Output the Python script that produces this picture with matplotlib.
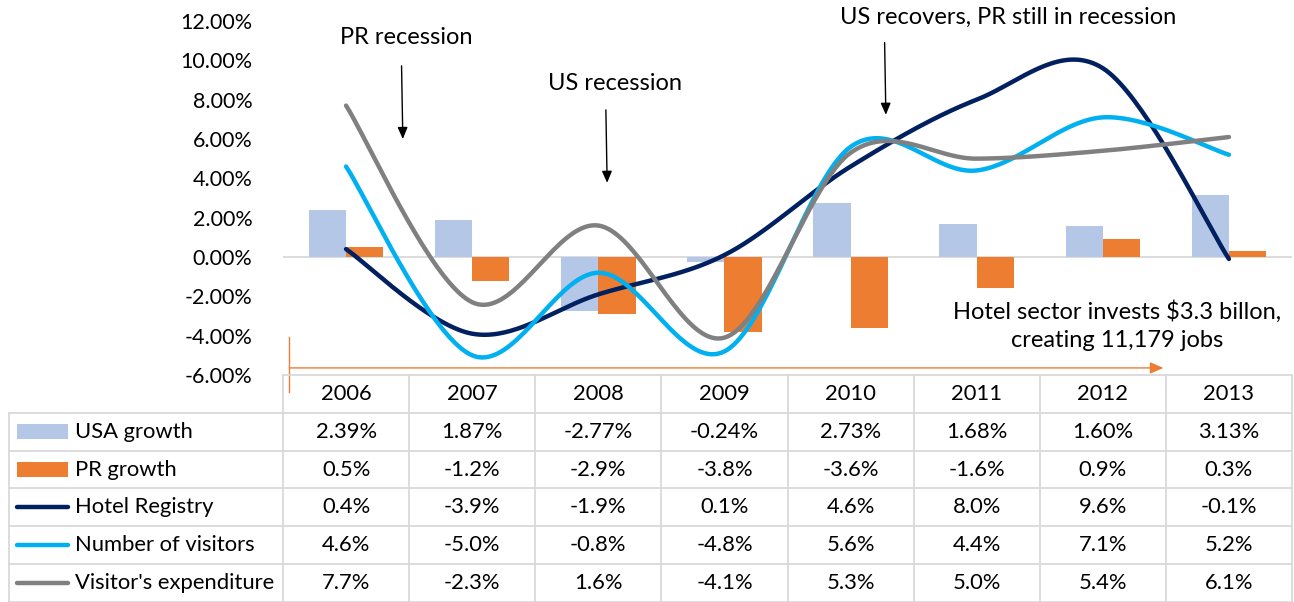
import numpy as np
import matplotlib
matplotlib.use('Agg')
import matplotlib.pyplot as plt

plt.rcParams['font.family'] = ['Lato', 'DejaVu Sans']

years = ['2006', '2007', '2008', '2009', '2010', '2011', '2012', '2013']
usa_growth = [2.39, 1.87, -2.77, -0.24, 2.73, 1.68, 1.60, 3.13]
pr_growth = [0.5, -1.2, -2.9, -3.8, -3.6, -1.6, 0.9, 0.3]
hotel_registry = [0.4, -3.9, -1.9, 0.1, 4.6, 8.0, 9.6, -0.1]
visitors = [4.6, -5.0, -0.8, -4.8, 5.6, 4.4, 7.1, 5.2]
expenditure = [7.7, -2.3, 1.6, -4.1, 5.3, 5.0, 5.4, 6.1]

usa_labels = ['2.39%', '1.87%', '-2.77%', '-0.24%', '2.73%', '1.68%', '1.60%', '3.13%']
pct1 = lambda v: [f'{x:.1f}%' for x in v]

C_USA = '#B4C7E7'
C_PR = '#ED7D31'
C_HOTEL = '#002060'
C_VIS = '#00B0F0'
C_EXP = '#808080'
GRID = '#D9D9D9'


def smooth(y, n=40):
    # Excel-like smoothed line: cubic bezier per segment, catmull-rom tangents
    p = np.column_stack([np.arange(len(y)), np.asarray(y, float)])
    pts = []
    t = np.linspace(0, 1, n)[:, None]
    for i in range(len(p) - 1):
        p0 = p[max(i - 1, 0)]
        p3 = p[min(i + 2, len(p) - 1)]
        b0, b3 = p[i], p[i + 1]
        b1 = b0 + (b3 - p0) / 6
        b2 = b3 - (p3 - b0) / 6
        seg = ((1 - t) ** 3) * b0 + 3 * ((1 - t) ** 2) * t * b1 + 3 * (1 - t) * t ** 2 * b2 + t ** 3 * b3
        pts.append(seg if i == 0 else seg[1:])
    pts = np.vstack(pts)
    return pts[:, 0], pts[:, 1]


W, H = 1294, 602
fig = plt.figure(figsize=(W / 100, H / 100), dpi=100)

left_px, right_px = 283, 1292
top_px, bot_px = 21, 375
ax = fig.add_axes([left_px / W, 1 - bot_px / H, (right_px - left_px) / W, (bot_px - top_px) / H])

x = np.arange(len(years))
bw = 0.295
ax.bar(x - bw / 2, usa_growth, bw, color=C_USA, zorder=2)
ax.bar(x + bw / 2, pr_growth, bw, color=C_PR, zorder=2)
for vals, col in [(hotel_registry, C_HOTEL), (visitors, C_VIS), (expenditure, C_EXP)]:
    sx, sy = smooth(vals)
    ax.plot(sx, sy, color=col, lw=3.2, solid_capstyle='round', zorder=3)

ax.axhline(0, color=GRID, lw=1.3, zorder=1)
ax.set_xlim(-0.5, len(years) - 0.5)
ax.set_ylim(-6, 12)
ax.set_yticks(np.arange(-6, 13, 2))
ax.set_yticklabels([f'{v:.2f}%' for v in np.arange(-6, 13, 2)], fontsize=15.5)
ax.tick_params(axis='y', length=0, pad=22)
ax.set_xticks([])
for s in ax.spines.values():
    s.set_visible(False)
ax.patch.set_alpha(0)

# annotations
fs = 17
ax.text(0.48, 11.18, 'PR recession', ha='center', va='center', fontsize=fs)
ax.text(2.13, 8.8, 'US recession', ha='center', va='center', fontsize=fs)
ax.text(5.25, 12.2, 'US recovers, PR still in recession', ha='center', va='center', fontsize=fs, clip_on=False)
ax.text(6.11, -3.5, 'Hotel sector invests $3.3 billon,\ncreating 11,179 jobs', ha='center', va='center',
        fontsize=fs, multialignment='center', linespacing=1.4)
arrow_kw = dict(arrowstyle='-|>,head_length=0.7,head_width=0.3', color='black', lw=1, shrinkA=0, shrinkB=0)
for ax_x, y0, y1 in [(0.44, 9.72, 6.0), (2.06, 7.48, 3.77), (4.27, 10.9, 7.23)]:
    ax.annotate('', xy=(ax_x + 0.01, y1), xytext=(ax_x, y0), arrowprops=arrow_kw, annotation_clip=False)

# orange timeline
ax.annotate('', xy=(6.48, -5.64), xytext=(-0.45, -5.64), annotation_clip=False,
            arrowprops=dict(arrowstyle='-|>,head_length=0.8,head_width=0.35', color=C_PR, lw=1,
                            shrinkA=0, shrinkB=0))
ax.plot([-0.45, -0.45], [-4.07, -6.86], color=C_PR, lw=1, clip_on=False)

# data table
tab_left = 9
unit = (right_px - left_px) / len(years)
tx0 = -0.5 - (left_px - tab_left) / unit
tax = fig.add_axes([tab_left / W, 0, (right_px - tab_left) / W, (H - bot_px) / H])
tax.set_xlim(tx0, len(years) - 0.5)
nrows = 6
row_h = 37.8
tax.set_ylim((H - bot_px) / row_h, 0)
tax.axis('off')

rows = [
    ('USA growth', usa_labels, C_USA, 'bar'),
    ('PR growth', pct1(pr_growth), C_PR, 'bar'),
    ('Hotel Registry', pct1(hotel_registry), C_HOTEL, 'line'),
    ('Number of visitors', pct1(visitors), C_VIS, 'line'),
    ("Visitor's expenditure", pct1(expenditure), C_EXP, 'line'),
]
tfs = 15.8
for i, yr in enumerate(years):
    tax.text(i, 0.5, yr, ha='center', va='center', fontsize=tfs)
for r, (name, labels, col, kind) in enumerate(rows, start=1):
    yc = r + 0.5
    k0 = tx0 + 8 / unit
    k1 = tx0 + 59 / unit
    if kind == 'bar':
        tax.add_patch(plt.Rectangle((k0, yc - 0.2), k1 - k0, 0.4, color=col, lw=0))
    else:
        tax.plot([k0, k1], [yc, yc], color=col, lw=3.2, solid_capstyle='round')
    tax.text(tx0 + 66 / unit, yc, name, ha='left', va='center', fontsize=tfs)
    for i, lab in enumerate(labels):
        tax.text(i, yc, lab, ha='center', va='center', fontsize=tfs)

lw_g = 1.3
tax.plot([-0.5, len(years) - 0.5], [0, 0], color=GRID, lw=lw_g, clip_on=False)
for r in range(1, nrows + 1):
    tax.plot([tx0, len(years) - 0.5], [r, r], color=GRID, lw=lw_g, clip_on=False)
for i in range(len(years) + 1):
    tax.plot([i - 0.5, i - 0.5], [0, nrows + 0.5], color=GRID, lw=lw_g, clip_on=False)
tax.plot([tx0, tx0], [1, nrows + 0.5], color=GRID, lw=lw_g, clip_on=False)

fig.savefig('out.png', dpi=100)
